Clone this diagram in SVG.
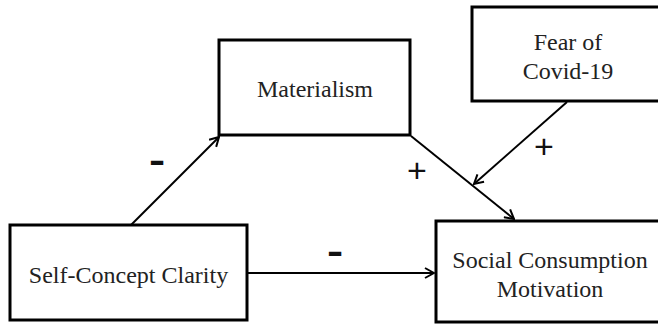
<svg xmlns="http://www.w3.org/2000/svg" width="658" height="324" viewBox="0 0 658 324">
<defs>
<style>
.box{fill:#fff;stroke:#000;stroke-width:3}
.lbl{font-family:"Liberation Serif","Times New Roman",serif;font-size:24px;fill:#222;text-anchor:middle}
.edge{stroke:#000;stroke-width:2;fill:none;marker-end:url(#arr)}
.sign{font-family:"Liberation Sans",Arial,sans-serif;fill:#111;text-anchor:middle}
</style>
<marker id="arr" viewBox="0 0 12 12" refX="11" refY="6" markerWidth="12" markerHeight="12" markerUnits="userSpaceOnUse" orient="auto">
<path d="M2,1 L11,6 L2,11" fill="none" stroke="#000" stroke-width="2"/>
</marker>
</defs>
<rect width="658" height="324" fill="#fff"/>
<g id="connectors">
<line class="edge" x1="131" y1="225" x2="219" y2="137"/>
<line class="edge" x1="411" y1="136" x2="514" y2="219"/>
<line class="edge" x1="567" y1="102" x2="474" y2="184"/>
<line class="edge" x1="248" y1="273" x2="434" y2="273"/>
<text class="sign" x="157" y="172" font-size="36" font-weight="bold" transform="translate(157 0) scale(1.35 1) translate(-157 0)">-</text>
<text class="sign" x="417" y="182" font-size="34">+</text>
<text class="sign" x="544" y="158" font-size="34">+</text>
<text class="sign" x="335" y="263" font-size="36" font-weight="bold" transform="translate(335 0) scale(1.35 1) translate(-335 0)">-</text>
</g>
<g id="materialism">
<rect class="box" x="219" y="40" width="191" height="95"/>
<text class="lbl" x="315" y="97">Materialism</text>
</g>
<g id="fear">
<rect class="box" x="472" y="7" width="200" height="94"/>
<text class="lbl" x="568" y="50">Fear of</text>
<text class="lbl" x="568" y="79">Covid-19</text>
</g>
<g id="selfconcept">
<rect class="box" x="10" y="225" width="237" height="95"/>
<text class="lbl" x="128.5" y="283">Self-Concept Clarity</text>
</g>
<g id="social">
<rect class="box" x="436" y="221" width="240" height="101"/>
<text class="lbl" x="550" y="268">Social Consumption</text>
<text class="lbl" x="550" y="297">Motivation</text>
</g>
</svg>
